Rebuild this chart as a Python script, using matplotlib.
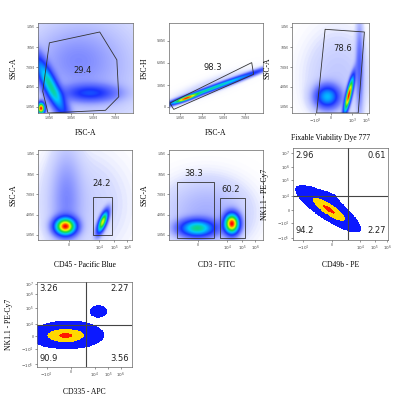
import numpy as np
import matplotlib
matplotlib.use("Agg")
import matplotlib.pyplot as plt
from matplotlib.colors import LinearSegmentedColormap, ListedColormap, BoundaryNorm

plt.rcParams['font.family'] = ['Liberation Serif', 'DejaVu Serif']

# ---- populations: (cx, cy, sx, sy, angle_deg, weight) in normalized axis units ----
p1_pops = [(0.5, 0.5, 0.45, 0.45, 0, 0.12), (0.13, 0.3, 0.05, 0.24, 25, 1.4),
           (0.03, 0.05, 0.025, 0.04, 0, 3.0), (0.55, 0.22, 0.18, 0.06, 0, 0.6),
           (0.4, 0.6, 0.25, 0.2, 0, 0.1)]
p2_pops = [(0.45, 0.27, 0.38, 0.018, 21, 1.5), (0.18, 0.16, 0.08, 0.015, 21, 2.0),
           (0.45, 0.3, 0.35, 0.06, 21, 0.05)]
p3_pops = [(0.46, 0.18, 0.1, 0.08, 0, 1.1), (0.74, 0.2, 0.022, 0.13, -15, 3.0),
           (0.88, 0.5, 0.03, 0.3, 0, 0.35), (0.6, 0.4, 0.3, 0.35, 0, 0.07)]
p4_pops = [(0.29, 0.15, 0.07, 0.06, 0, 2.0), (0.3, 0.45, 0.1, 0.35, 0, 0.12),
           (0.69, 0.2, 0.025, 0.08, -20, 1.6), (0.45, 0.4, 0.35, 0.4, 0, 0.04)]
p5_pops = [(0.3, 0.13, 0.12, 0.06, 0, 0.6), (0.67, 0.18, 0.05, 0.07, 0, 1.2),
           (0.4, 0.3, 0.3, 0.25, 0, 0.05)]
p6_pops = [(0.38, 0.33, 0.16, 0.045, -35, 3.0), (0.45, 0.5, 0.3, 0.15, 0, 0.12)]
p7_pops = [(0.3, 0.37, 0.15, 0.06, 0, 3.0), (0.65, 0.66, 0.05, 0.04, 0, 0.45),
           (0.4, 0.45, 0.3, 0.2, 0, 0.1)]

# ---- gates ----
gate1 = [(0.12, 0.78), (0.65, 0.9), (0.83, 0.59), (0.85, 0.18), (0.71, 0.03), (0.105, 0.0), (0.05, 0.24)]
gate2 = [(0.01, 0.11), (0.88, 0.56), (0.9, 0.43), (0.05, 0.04)]
gate3 = [(0.43, 0.93), (0.94, 0.9), (0.86, 0.0), (0.32, 0.0)]
gate4 = [(0.58, 0.06), (0.79, 0.48)]
gate5a = [(0.08, 0.02), (0.48, 0.64)]
gate5b = [(0.54, 0.02), (0.81, 0.47)]

# ---- ticks (position, label) ----
ssc_ticks = [(0.07, '1.0M'), (0.29, '4.0M'), (0.51, '7.0M'), (0.73, '10M'), (0.96, '13M')]
ssc_ticks2 = [(0.06, '1.0M'), (0.28, '4.0M'), (0.51, '7.0M'), (0.73, '10M'), (0.956, '13M')]
fsc_ticks = [(0.12, '1.0M'), (0.35, '3.0M'), (0.58, '5.0M'), (0.81, '7.0M')]
fsch_ticks = [(0.07, '0'), (0.31, '3.0M'), (0.56, '6.0M'), (0.8, '9.0M')]
vd_ticks = [(0.3, '$-10^3$'), (0.5, '0'), (0.78, '$10^3$'), (0.97, '$10^5$')]
cd45_ticks = [(0.33, '0'), (0.65, '$10^4$'), (0.81, '$10^5$'), (0.95, '$10^6$')]
cd3_ticks = [(0.31, '0'), (0.62, '$10^4$'), (0.78, '$10^5$'), (0.92, '$10^6$')]
nk_ticks6 = [(0.019, '$-10^5$'), (0.185, '$-10^4$'), (0.326, '0'), (0.474, '$10^4$'),
             (0.648, '$10^5$'), (0.796, '$10^6$'), (0.944, '$10^7$')]
cd49_ticks = [(0.11, '$-10^4$'), (0.41, '0'), (0.71, '$10^4$'), (0.86, '$10^5$'), (0.99, '$10^6$')]
nk_ticks7 = [(0.03, '$-10^5$'), (0.21, '$-10^4$'), (0.36, '0'), (0.51, '$10^4$'),
             (0.69, '$10^5$'), (0.86, '$10^6$'), (0.98, '$10^7$')]
cd335_ticks = [(0.1, '$-10^4$'), (0.36, '0'), (0.61, '$10^4$'), (0.75, '$10^5$'), (0.88, '$10^6$')]

flow_cmap = LinearSegmentedColormap.from_list('flow', [
    (0.0, (1, 1, 1, 0)), (0.03, (0.85, 0.87, 1, 1)), (0.15, (0.45, 0.5, 1, 1)), (0.3, (0.1, 0.2, 1, 1)),
    (0.5, (0, 0.8, 1, 1)), (0.68, (0.1, 0.85, 0.2, 1)), (0.84, (1, 1, 0, 1)), (1.0, (1, 0, 0, 1))])
quad_cmap = ListedColormap([(1, 1, 1, 0), (0.05, 0.1, 1, 1), (1, 0.85, 0, 1), (1, 0.1, 0, 1)])
quad_norm = BoundaryNorm([0, 0.04, 0.45, 0.9, 1.01], 4)

N = 220
gx, gy = np.meshgrid(np.linspace(0, 1, N), np.linspace(0, 1, N))


def density(pops):
    d = np.zeros_like(gx)
    for cx, cy, sx, sy, ang, w in pops:
        a = np.deg2rad(ang)
        dx, dy = gx - cx, gy - cy
        u = dx * np.cos(a) + dy * np.sin(a)
        v = -dx * np.sin(a) + dy * np.cos(a)
        d += w * np.exp(-0.5 * ((u / sx) ** 2 + (v / sy) ** 2))
    return d / d.max()


def panel(rect, pops, xlabel, ylabel, xt, yt, quad=False):
    ax = fig.add_axes([rect[0] / 416, 1 - rect[3] / 416, (rect[2] - rect[0]) / 416, (rect[3] - rect[1]) / 416])
    d = density(pops)
    if quad:
        ax.imshow(d, origin='lower', extent=(0, 1, 0, 1), cmap=quad_cmap, norm=quad_norm,
                  interpolation='nearest', aspect='auto')
    else:
        ax.imshow(d ** 0.75, origin='lower', extent=(0, 1, 0, 1), cmap=flow_cmap,
                  interpolation='bilinear', aspect='auto', vmin=0, vmax=1)
    ax.set_xlim(0, 1)
    ax.set_ylim(0, 1)
    ax.set_xticks([p for p, _ in xt])
    ax.set_xticklabels([l for _, l in xt], fontsize=3)
    ax.set_yticks([p for p, _ in yt])
    ax.set_yticklabels([l for _, l in yt], fontsize=3)
    ax.tick_params(length=1.5, width=0.4, pad=1, colors='#444444')
    ax.set_xlabel(xlabel, fontsize=5.5, labelpad=6)
    ax.set_ylabel(ylabel, fontsize=5.5, labelpad=6)
    for s in ax.spines.values():
        s.set_linewidth(0.5)
        s.set_color('#666666')
    return ax


def label(ax, x, y, t):
    ax.text(x, y, t, fontsize=6, ha='center', va='center', family='DejaVu Sans', color='#222222')


fig = plt.figure(figsize=(4.16, 4.16), dpi=100)

ax = panel((38, 23, 133, 113), p1_pops, 'FSC-A', 'SSC-A', fsc_ticks, ssc_ticks)
ax.add_patch(plt.Polygon(gate1, fill=False, ec='#333333', lw=0.6))
label(ax, 0.47, 0.47, '29.4')

ax = panel((169, 23, 263, 113), p2_pops, 'FSC-A', 'FSC-H', fsc_ticks, fsch_ticks)
ax.add_patch(plt.Polygon(gate2, fill=False, ec='#333333', lw=0.6))
label(ax, 0.47, 0.5, '98.3')

ax = panel((292, 23, 369, 113), p3_pops, 'Fixable Viability Dye 777', 'SSC-A', vd_ticks, ssc_ticks)
ax.add_patch(plt.Polygon(gate3, fill=False, ec='#333333', lw=0.6))
label(ax, 0.66, 0.72, '78.6')

ax = panel((38, 150, 132, 240), p4_pops, 'CD45 - Pacific Blue', 'SSC-A', cd45_ticks, ssc_ticks2)
(x0, y0), (x1, y1) = gate4
ax.add_patch(plt.Rectangle((x0, y0), x1 - x0, y1 - y0, fill=False, ec='#333333', lw=0.6))
label(ax, 0.68, 0.63, '24.2')

ax = panel((169, 150, 263, 240), p5_pops, 'CD3 - FITC', 'SSC-A', cd3_ticks, ssc_ticks2)
for (x0, y0), (x1, y1) in (gate5a, gate5b):
    ax.add_patch(plt.Rectangle((x0, y0), x1 - x0, y1 - y0, fill=False, ec='#333333', lw=0.6))
label(ax, 0.26, 0.74, '38.3')
label(ax, 0.66, 0.56, '60.2')

ax = panel((293, 148, 388, 240), p6_pops, 'CD49b - PE', 'NK1.1 - PE-Cy7', cd49_ticks, nk_ticks6, quad=True)
ax.axvline(0.58, color='#444444', lw=0.8)
ax.axhline(0.48, color='#444444', lw=0.8)
for x, y, t in ((0.12, 0.92, '2.96'), (0.88, 0.92, '0.61'), (0.12, 0.1, '94.2'), (0.88, 0.1, '2.27')):
    label(ax, x, y, t)

ax = panel((37, 282, 132, 367), p7_pops, 'CD335 - APC', 'NK1.1 - PE-Cy7', cd335_ticks, nk_ticks7, quad=True)
ax.axvline(0.52, color='#444444', lw=0.8)
ax.axhline(0.49, color='#444444', lw=0.8)
for x, y, t in ((0.12, 0.92, '3.26'), (0.87, 0.92, '2.27'), (0.12, 0.1, '90.9'), (0.87, 0.1, '3.56')):
    label(ax, x, y, t)

fig.savefig('out.png', dpi=100)
